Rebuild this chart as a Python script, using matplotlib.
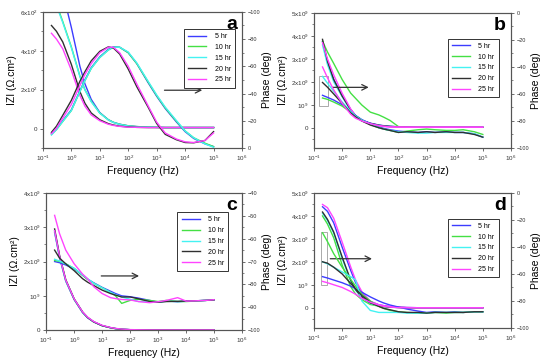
import matplotlib
matplotlib.use('Agg')
import matplotlib.pyplot as plt
from matplotlib.patches import Rectangle
from matplotlib.ticker import AutoMinorLocator, NullLocator

plt.rcParams['font.family'] = ['Liberation Sans', 'DejaVu Sans']
plt.rcParams['mathtext.fontset'] = 'custom'
plt.rcParams['mathtext.rm'] = 'Liberation Sans'
plt.rcParams['mathtext.default'] = 'regular'

# frequency grid (Hz) shared by every curve
freq = [0.2, 0.3, 0.5, 1, 2, 3, 5, 10, 20, 30, 50, 100, 200, 500,
        1e3, 2e3, 5e3, 1e4, 2e4, 5e4, 1e5]
hours = ['5 hr', '10 hr', '15 hr', '20 hr', '25 hr']
colors = ['#3c3cff', '#44e044', '#44f2f2', '#303030', '#ff44ff']

# ---- panel a : |Z| (Ohm.cm2) and phase (deg)
za_5 = [950, 850, 700, 520, 320, 230, 150, 82, 45, 32, 22, 14, 10, 7, 6, 5, 5, 5, 5, 5, 5]
za_10 = [700, 640, 550, 420, 270, 200, 140, 80, 45, 32, 22, 14, 10, 7, 6, 5, 5, 5, 5, 5, 5]
za_15 = [690, 632, 545, 416, 267, 198, 138, 79, 44, 31, 21, 13, 9, 7, 6, 5, 5, 5, 5, 5, 5]
za_20 = [530, 500, 445, 330, 190, 130, 80, 45, 25, 18, 12, 8, 6, 5, 5, 5, 5, 5, 5, 5, 5]
za_25 = [490, 460, 410, 300, 170, 115, 70, 40, 22, 16, 11, 7, 6, 5, 5, 5, 5, 5, 5, 5, 5]
pa_5 = [-10.5, -14, -20, -28, -42, -50, -59, -67, -72.5, -74.3, -74, -70, -62, -48, -38, -29, -19, -12, -7, -3, -1]
pa_10 = [-10, -13.5, -19.5, -27.5, -41.5, -49.5, -58.5, -66.5, -72, -74, -74, -70, -62, -48.5, -38.5, -29.5, -19.5, -12.5, -7.5, -3.5, -1]
pa_15 = [-9.5, -13.5, -19.5, -27.5, -41.5, -49.5, -58.5, -66.5, -72, -74, -74, -70.5, -62.5, -49, -39, -30, -20, -12.5, -7.5, -3, -0.5]
pa_20 = [-11.5, -16, -24, -35, -49, -56, -64, -71, -74.3, -73.5, -69, -58, -45, -30, -18, -10, -6, -4, -3.8, -5.5, -12]
pa_25 = [-10.5, -14.5, -22, -32, -46, -54, -62, -70, -74, -74, -70, -60, -47, -31, -19, -11, -6.5, -4.5, -4, -5.5, -11]

# ---- panel b : |Z| (x1e9 Ohm.cm2) and phase (deg)
zb_5 = [3.75, 2.85, 2.1, 1.4, 0.8, 0.53, 0.33, 0.2, 0.12, 0.09, 0.06, 0.04, 0.03, 0.02, 0.02, 0.02, 0.02, 0.02, 0.02, 0.02, 0.02]
zb_10 = [3.77, 3.3, 2.8, 2.1, 1.51, 1.28, 0.99, 0.68, 0.56, 0.46, 0.32, 0.05, 0.03, 0.02, 0.02, 0.02, 0.02, 0.02, 0.02, 0.02, 0.02]
zb_15 = [3.6, 2.75, 2.0, 1.35, 0.75, 0.5, 0.3, 0.18, 0.11, 0.08, 0.06, 0.04, 0.03, 0.02, 0.02, 0.02, 0.02, 0.02, 0.02, 0.02, 0.02]
zb_20 = [3.85, 2.9, 2.1, 1.38, 0.78, 0.52, 0.32, 0.19, 0.11, 0.08, 0.06, 0.04, 0.03, 0.02, 0.02, 0.02, 0.02, 0.02, 0.02, 0.02, 0.02]
zb_25 = [3.7, 3.0, 2.3, 1.5, 0.82, 0.52, 0.3, 0.16, 0.09, 0.06, 0.04, 0.03, 0.02, 0.02, 0.02, 0.02, 0.02, 0.02, 0.02, 0.02, 0.02]
pb_5 = [-61, -62.5, -64.5, -68, -73, -76, -79, -82, -84.5, -85.5, -86.5, -87.5, -88, -88.5, -88, -88.5, -88, -88.5, -88.5, -89.5, -92]
pb_10 = [-63, -64, -66, -69, -73.5, -76.5, -79.5, -82.5, -85, -86, -87, -88.5, -87.5, -86.5, -86, -86.5, -87, -87, -86.5, -88, -90]
pb_15 = [-47, -52, -58, -66, -73, -76.5, -79.5, -82.5, -85, -86, -87, -88, -88.5, -89, -89, -88.5, -88.5, -88.5, -88.5, -89.5, -92]
pb_20 = [-51.5, -55, -60, -67, -74, -77, -80, -83, -85, -86, -87, -88.5, -88, -88.5, -88, -88.5, -88, -88.5, -88.5, -90, -92]
pb_25 = [-40, -48, -57, -67, -75, -78, -80, -82, -83.5, -84, -84.5, -84.5, -84.5, -84.5, -84.5, -84.5, -84.5, -84.5, -84.5, -84.5, -84.5]

# ---- panel c
zc_5 = [2.85, 2.12, 1.43, 0.89, 0.51, 0.36, 0.24, 0.13, 0.07, 0.045, 0.025, 0.012, 0.008, 0.005, 0.004, 0.004, 0.004, 0.004, 0.004, 0.004, 0.004]
zc_10 = [2.9, 2.15, 1.45, 0.9, 0.52, 0.37, 0.24, 0.13, 0.07, 0.045, 0.025, 0.012, 0.008, 0.005, 0.004, 0.004, 0.004, 0.004, 0.004, 0.004, 0.004]
zc_15 = [2.88, 2.14, 1.44, 0.9, 0.52, 0.37, 0.24, 0.13, 0.07, 0.045, 0.025, 0.012, 0.008, 0.005, 0.004, 0.004, 0.004, 0.004, 0.004, 0.004, 0.004]
zc_20 = [2.95, 2.18, 1.47, 0.91, 0.53, 0.37, 0.24, 0.13, 0.07, 0.045, 0.025, 0.012, 0.008, 0.005, 0.004, 0.004, 0.004, 0.004, 0.004, 0.004, 0.004]
zc_25 = [2.9, 2.16, 1.46, 0.91, 0.53, 0.38, 0.25, 0.14, 0.075, 0.05, 0.03, 0.015, 0.01, 0.006, 0.005, 0.005, 0.005, 0.005, 0.005, 0.005, 0.005]
pc_5 = [-70, -70.5, -71.5, -73.2, -76, -77.7, -79.3, -81.3, -83, -84, -85, -85.4, -86, -87, -87.8, -87.2, -87.6, -87.3, -87.2, -87, -86.7]
pc_10 = [-69.5, -70, -71, -73, -76, -77.8, -79.5, -81.5, -83.5, -85, -88.3, -87, -86.5, -87, -87.5, -87, -87.5, -87.5, -87.3, -87, -86.7]
pc_15 = [-69, -69.8, -71, -73, -75.8, -77.5, -79.5, -81.5, -83.5, -84.5, -85.5, -86.5, -87.5, -87.5, -87.8, -87.4, -87.5, -87.4, -87.2, -87, -86.8]
pc_20 = [-65, -68.5, -71, -74, -77.5, -79, -80.5, -82.5, -84, -84.7, -85.5, -85.5, -86.3, -87.5, -87.8, -87.5, -87.4, -87.3, -87.2, -87, -86.8]
pc_25 = [-49.8, -57.8, -65, -71, -75.5, -77.5, -81, -84, -85.8, -86.2, -86.6, -86.8, -87.5, -88, -87.6, -87, -85.8, -87.3, -87.2, -87, -86.7]

# ---- panel d
zd_5 = [4.4, 4.2, 3.7, 2.64, 1.64, 1.1, 0.64, 0.28, 0.14, 0.1, 0.06, 0.04, 0.02, 0.01, 0.01, 0.01, 0.01, 0.01, 0.01, 0.01, 0.01]
zd_10 = [4.0, 3.65, 3.05, 1.86, 0.93, 0.6, 0.36, 0.15, 0.08, 0.05, 0.03, 0.02, 0.01, 0.01, 0.01, 0.01, 0.01, 0.01, 0.01, 0.01, 0.01]
zd_15 = [4.12, 3.8, 3.25, 2.15, 1.17, 0.77, 0.45, 0.2, 0.09, 0.06, 0.04, 0.02, 0.01, 0.01, 0.01, 0.01, 0.01, 0.01, 0.01, 0.01, 0.01]
zd_20 = [4.17, 3.85, 3.3, 2.21, 1.21, 0.8, 0.47, 0.22, 0.1, 0.07, 0.04, 0.02, 0.01, 0.01, 0.01, 0.01, 0.01, 0.01, 0.01, 0.01, 0.01]
zd_25 = [4.5, 4.36, 3.9, 2.86, 1.79, 1.21, 0.71, 0.29, 0.14, 0.1, 0.06, 0.04, 0.02, 0.01, 0.01, 0.01, 0.01, 0.01, 0.01, 0.01, 0.01]
pd_5 = [-62, -63, -64.5, -66.5, -69, -71, -73.5, -77, -80, -81.5, -83, -84.5, -86, -87.5, -88.5, -88, -88.5, -88, -88.5, -88, -88]
pd_10 = [-29.5, -36, -45, -55, -64, -69, -75, -80, -84, -85.5, -87, -88, -88.5, -89, -89, -88.5, -89, -88.5, -88.5, -88, -88]
pd_15 = [-51, -52.5, -55, -58.5, -62, -64.5, -80, -87, -88.5, -88.5, -88.5, -88.5, -89, -89, -89, -88.5, -88.5, -88.5, -88.5, -88, -88]
pd_20 = [-51, -52, -55, -60, -67, -71, -76, -81, -84, -85.5, -86.5, -88, -88.5, -88.5, -89, -88.5, -88.5, -88.5, -88.5, -88, -88]
pd_25 = [-65.5, -66.5, -68, -70, -73, -75, -78, -81, -83, -84, -84.5, -85, -85, -85, -85, -85, -85, -85, -85, -85, -85]

big = ['0', '$10^9$', '$2x10^9$', '$3x10^9$', '$4x10^9$', '$5x10^9$']
panels = [
    dict(rect=[0.078, 0.589, 0.362, 0.378], z=[za_5, za_10, za_15, za_20, za_25],
         p=[pa_5, pa_10, pa_15, pa_20, pa_25], zlim=(-100, 600), zt=[0, 200, 400, 600],
         zl=['0', '$2x10^2$', '$4x10^2$', '$6x10^2$'], plim=(0, -100), pt=range(-100, 1, 20),
         letter='a', leg=(0.71, 0.875), arrow=((1500, 197), (50000, 197)), box=None),
    dict(rect=[0.571, 0.589, 0.358, 0.375], z=[zb_5, zb_10, zb_15, zb_20, zb_25],
         p=[pb_5, pb_10, pb_15, pb_20, pb_25], zlim=(-0.88, 5.0), zt=range(6), zl=big,
         plim=(-100, 0), pt=range(-100, 1, 20), letter='b', leg=(0.68, 0.81),
         arrow=((0.36, 1.76), (11, 1.76)), box=(0.15, 0.96, 0.165, 1.3)),
    dict(rect=[0.084, 0.083, 0.356, 0.381], z=[zc_5, zc_10, zc_15, zc_20, zc_25],
         p=[pc_5, pc_10, pc_15, pc_20, pc_25], zlim=(0, 4), zt=range(5), zl=big[:5],
         plim=(-100, -40), pt=range(-100, -39, 10), letter='c', leg=(0.67, 0.86),
         arrow=((7.4, 1.58), (263, 1.58)), box=None),
    dict(rect=[0.571, 0.089, 0.358, 0.375], z=[zd_5, zd_10, zd_15, zd_20, zd_25],
         p=[pd_5, pd_10, pd_15, pd_20, pd_25], zlim=(-0.87, 5.0), zt=range(6), zl=big,
         plim=(-100, 0), pt=range(-100, 1, 20), letter='d', leg=(0.68, 0.81),
         arrow=((0.30, 2.14), (14.4, 2.14)), box=(0.18, 1.0, 0.12, 2.29)),
]

fig = plt.figure(figsize=(5.5, 3.6), dpi=100)

for pn in panels:
    ax = fig.add_axes(pn['rect'])
    ax2 = ax.twinx()
    lines = []
    for zs, c, h in zip(pn['z'], colors, hours):
        ln, = ax.plot(freq, zs, color=c, lw=1.0, label=h)
        lines.append(ln)
    for ps, c in zip(pn['p'], colors):
        ax2.plot(freq, ps, color=c, lw=1.0)
    ax.set_xscale('log')
    ax.set_xlim(0.1, 1e6)
    ax.set_ylim(pn['zlim'])
    ax.set_yticks(list(pn['zt']))
    ax.set_yticklabels(pn['zl'])
    ax2.set_ylim(pn['plim'])
    ax2.set_yticks(list(pn['pt']))
    ax.set_xticks([10.0 ** k for k in range(-1, 7)])
    ax.xaxis.set_minor_locator(NullLocator())
    ax.yaxis.set_minor_locator(AutoMinorLocator(2))
    ax2.yaxis.set_minor_locator(AutoMinorLocator(2))
    for a in (ax, ax2):
        a.tick_params(labelsize=4.5, length=2, width=0.6, direction='out', pad=2,
                      colors='#555555', labelcolor='#333333')
        a.tick_params(which='minor', length=1.2, width=0.5, direction='out', colors='#555555')
        for s in a.spines.values():
            s.set_color('#555555')
            s.set_linewidth(0.8)
    ax2.tick_params(labelsize=4)
    ax.set_xlabel('Frequency (Hz)', fontsize=7.5, labelpad=2)
    ax.set_ylabel('IZI (Ω.cm²)', fontsize=7.5, labelpad=2)
    ax2.set_ylabel('Phase (deg)', fontsize=7.5, labelpad=1)
    ax2.text(0.975, 0.97, pn['letter'], transform=ax2.transAxes, ha='right', va='top',
             fontsize=14, fontweight='bold')
    ax2.legend(lines, hours, loc='upper left', bbox_to_anchor=pn['leg'], fontsize=5,
               frameon=True, fancybox=False, edgecolor='#333333', framealpha=1,
               handlelength=2.6, labelspacing=0.55, borderpad=0.6, handletextpad=1.2,
               borderaxespad=0)
    ax2.get_legend().get_frame().set_linewidth(0.7)
    (x0, y0), (x1, y1) = pn['arrow']
    ax.annotate('', xy=(x1, y1), xytext=(x0, y0),
                arrowprops=dict(arrowstyle='->', color='#333333', lw=0.9))
    if pn['box'] is not None:
        bx, by, bw, bh = pn['box']
        ax.add_patch(Rectangle((bx, by), bw, bh, fill=False, ec='#aaaaaa', lw=0.7))

fig.savefig('out.png', dpi=100)
